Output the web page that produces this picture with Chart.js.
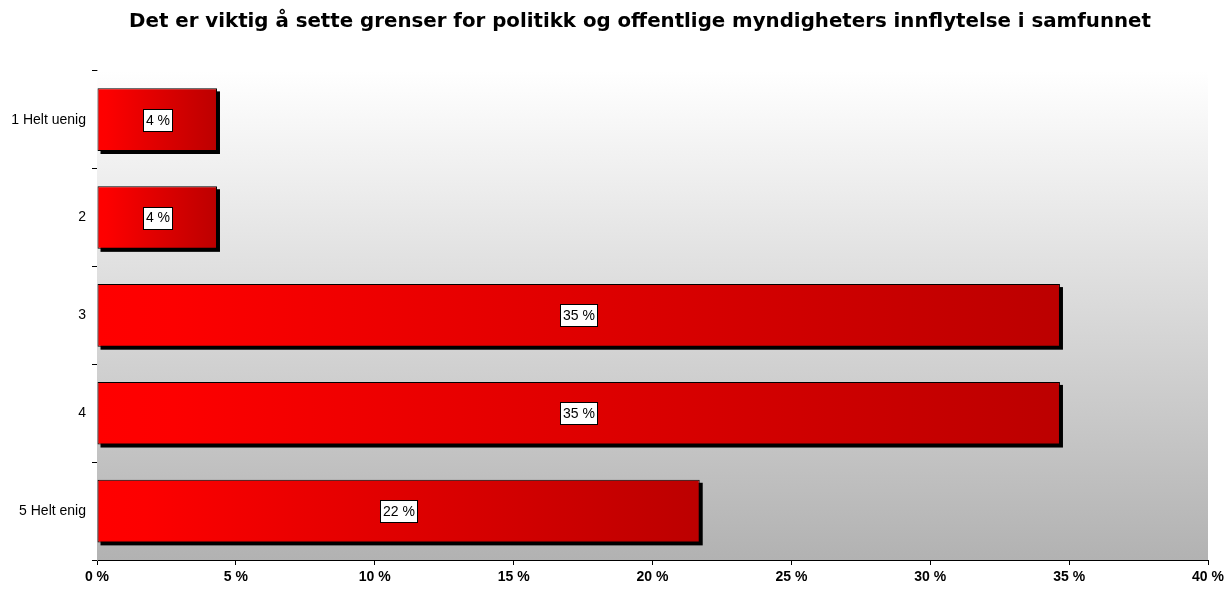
<!DOCTYPE html>
<html>
<head>
<meta charset="utf-8">
<script src="https://cdn.jsdelivr.net/npm/chart.js@4/dist/chart.umd.min.js"></script>
<style>
  html, body { margin: 0; padding: 0; background: #ffffff; }
  #wrap { width: 1224px; height: 589px; }
</style>
</head>
<body>
<div id="wrap"><canvas id="c" width="1224" height="589"></canvas></div>
<script>
const titleText = 'Det er viktig å sette grenser for politikk og offentlige myndigheters innflytelse i samfunnet';
const categories = ['1 Helt uenig', '2', '3', '4', '5 Helt enig'];
const values = [4.32, 4.32, 34.67, 34.67, 21.7];
const xTicks = [0, 5, 10, 15, 20, 25, 30, 35, 40];

const bgPlugin = {
  id: 'plotBg',
  afterLayout(chart) {
    // let y-axis labels extend to the canvas edge (avoid label clipping)
    if (chart.scales.y) chart.scales.y.left = 0;
  },
  beforeDatasetsDraw(chart) {
    const { ctx, chartArea: a } = chart;
    const g = ctx.createLinearGradient(0, a.top, 0, a.bottom);
    g.addColorStop(0, '#ffffff');
    g.addColorStop(1, '#b2b2b2');
    ctx.save();
    ctx.fillStyle = g;
    ctx.fillRect(a.left, a.top, a.right - a.left, a.bottom - a.top);
    ctx.restore();
  }
};

const shadowPlugin = {
  id: 'barShadow',
  beforeDatasetDraw(chart) {
    const ctx = chart.ctx;
    const meta = chart.getDatasetMeta(0);
    ctx.save();
    ctx.fillStyle = '#000000';
    meta.data.forEach((bar) => {
      const left = Math.min(bar.base, bar.x);
      const right = Math.max(bar.base, bar.x);
      const top = bar.y - bar.height / 2;
      ctx.fillRect(left + 3, top + 3, right - left, bar.height);
    });
    ctx.restore();
  }
};

const labelPlugin = {
  id: 'valueLabels',
  afterDatasetsDraw(chart) {
    const { ctx } = chart;
    const meta = chart.getDatasetMeta(0);
    ctx.save();
    ctx.font = '14px "Liberation Sans", Arial, sans-serif';
    ctx.textAlign = 'center';
    ctx.textBaseline = 'middle';
    meta.data.forEach((bar, i) => {
      const txt = Math.round(values[i]) + ' %';
      const cx = (bar.x + bar.base) / 2;
      const cy = bar.y;
      const w = Math.round(ctx.measureText(txt).width + 5);
      const h = 22;
      const x0 = Math.round(cx - w / 2) + 0.5;
      const y0 = Math.round(cy - h / 2) + 0.5;
      ctx.fillStyle = '#ffffff';
      ctx.fillRect(x0, y0, w, h);
      ctx.strokeStyle = '#000000';
      ctx.lineWidth = 1;
      ctx.strokeRect(x0, y0, w, h);
      ctx.fillStyle = '#000000';
      ctx.fillText(txt, x0 + w / 2, cy + 1);
    });
    ctx.restore();
  }
};

function barGradient(context) {
  const chart = context.chart;
  if (!chart.chartArea) return '#ff0000';
  const xs = chart.scales.x;
  const x0 = xs.getPixelForValue(0);
  const x1 = xs.getPixelForValue(context.raw);
  if (!isFinite(x0) || !isFinite(x1) || x1 <= x0) return '#ff0000';
  const g = chart.ctx.createLinearGradient(x0, 0, x1, 0);
  g.addColorStop(0, '#ff0000');
  g.addColorStop(0.08, '#fd0000');
  g.addColorStop(1, '#bc0000');
  return g;
}

new Chart(document.getElementById('c'), {
  type: 'bar',
  data: {
    labels: categories,
    datasets: [{
      data: values,
      backgroundColor: barGradient,
      borderColor: '#000000',
      borderWidth: 1,
      borderSkipped: false,
      barPercentage: 0.64,
      categoryPercentage: 1.0
    }]
  },
  options: {
    indexAxis: 'y',
    responsive: false,
    animation: false,
    devicePixelRatio: 1,
    layout: { padding: { left: 72, right: 16, top: 0, bottom: 0 } },
    plugins: {
      legend: { display: false },
      tooltip: { enabled: false },
      title: {
        display: true,
        text: titleText,
        color: '#000000',
        font: { family: '"DejaVu Sans", Verdana, sans-serif', size: 19.8, weight: 'bold' },
        padding: { top: 10, bottom: 37 }
      }
    },
    scales: {
      x: {
        type: 'linear',
        min: 0,
        max: 40,
        afterBuildTicks(scale) { scale.ticks = xTicks.map(v => ({ value: v })); },
        afterFit(scale) { scale.height = 29; scale.paddingLeft = 0; scale.paddingRight = 0; },
        border: { display: true, color: '#000000', width: 1 },
        grid: { drawOnChartArea: false, drawTicks: true, tickLength: 5, color: '#000000' },
        ticks: {
          color: '#000000',
          padding: 4,
          maxRotation: 0,
          font: { family: '"Liberation Sans", Arial, sans-serif', size: 14, weight: 'bold' },
          callback: (v) => v + ' %'
        }
      },
      y: {
        afterFit(scale) { scale.width = 25; },
        border: { display: true, color: '#808080', width: 1 },
        grid: { drawOnChartArea: false, drawTicks: true, tickLength: 5, color: '#000000', offset: true },
        ticks: {
          color: '#000000',
          padding: 6,
          font: { family: '"Liberation Sans", Arial, sans-serif', size: 14 }
        }
      }
    }
  },
  plugins: [bgPlugin, shadowPlugin, labelPlugin]
});
</script>
</body>
</html>
